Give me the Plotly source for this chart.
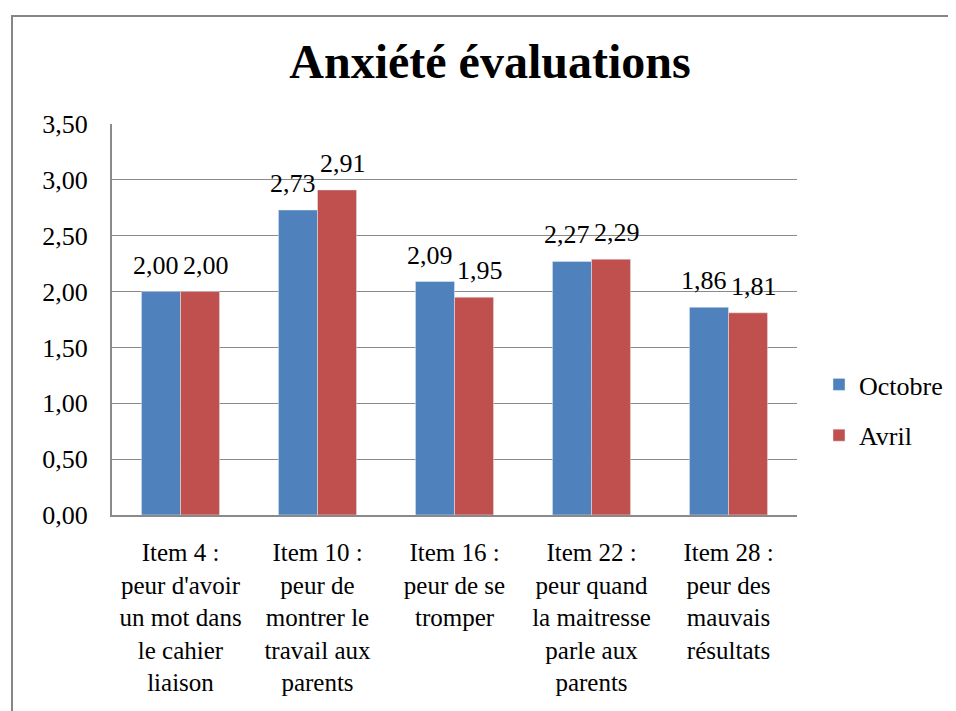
import plotly.graph_objects as go

categories = [
    "Item 4 :<br>peur d'avoir<br>un mot dans<br>le cahier<br>liaison",
    "Item 10 :<br>peur de<br>montrer le<br>travail aux<br>parents",
    "Item 16 :<br>peur de se<br>tromper",
    "Item 22 :<br>peur quand<br>la maitresse<br>parle aux<br>parents",
    "Item 28 :<br>peur des<br>mauvais<br>résultats",
]
octobre = [2.00, 2.73, 2.09, 2.27, 1.86]
avril = [2.00, 2.91, 1.95, 2.29, 1.81]
y_ticks = [0, 0.5, 1.0, 1.5, 2.0, 2.5, 3.0, 3.5]

FONT = "Liberation Serif"
BLUE = "#4F81BD"
RED = "#C0504D"
GRID = "#8a8a8a"

OFF = 8  # page body margin offset
W, H = 956, 711
ML, MR, MT, MB = 112 - OFF, 159 + OFF, 124 - OFF, 196 + OFF
PW, PH = W - ML - MR, H - MT - MB

def fmt(v):
    return f"{v:.2f}".replace(".", ",")

fig = go.Figure()
fig.add_trace(go.Bar(name="Octobre", x=categories, y=octobre, marker_color=BLUE,
                     legendgroup="a", hoverinfo="skip"))
fig.add_trace(go.Bar(name="Avril", x=categories, y=avril, marker_color=RED,
                     legendgroup="b", hoverinfo="skip"))

annotations = []
for series, shift in ((octobre, -25), (avril, 25)):
    for c, v in zip(categories, series):
        annotations.append(dict(x=c, y=v, xref="x", yref="y", text=fmt(v),
                                showarrow=False, xshift=shift, yshift=10,
                                yanchor="bottom", xanchor="center",
                                font=dict(family=FONT, size=26, color="black")))

# pixel (in screenshot coords) -> paper coords
px = lambda p: (p - OFF - ML) / PW
py = lambda p: (H - MB - (p - OFF)) / PH
shapes = [dict(type="rect", xref="paper", yref="paper",
               x0=px(12), x1=px(1100), y0=py(900), y1=py(16),
               line=dict(color="#868686", width=2), fillcolor="rgba(0,0,0,0)",
               layer="above")]

fig.update_layout(
    width=W, height=H,
    margin=dict(l=ML, r=MR, t=MT, b=MB, autoexpand=False),
    paper_bgcolor="white", plot_bgcolor="white",
    separators=", ",
    barmode="group", bargap=0.43, bargroupgap=0,
    font=dict(family=FONT, size=26, color="black"),
    title=dict(text="<b>Anxiété évaluations</b>", x=(490 - OFF) / W, xref="container",
               xanchor="center", y=1 - (61 - OFF) / H, yref="container", yanchor="middle",
               font=dict(family=FONT, size=48, color="black")),
    legend=dict(x=px(819), y=py(410), xref="paper", yref="paper",
                xanchor="left", yanchor="middle",
                font=dict(family=FONT, size=26, color="black"),
                traceorder="grouped", tracegroupgap=14, itemwidth=30,
                bgcolor="rgba(0,0,0,0)"),
    annotations=annotations,
    shapes=shapes,
)
fig.update_xaxes(showline=True, linecolor=GRID, linewidth=2, ticks="",
                 showgrid=False, tickfont=dict(family=FONT, size=25),
                 ticklabelstandoff=14, fixedrange=True)
fig.update_yaxes(range=[0, 3.5], tickvals=y_ticks, tickformat=".2f",
                 showline=True, linecolor=GRID, linewidth=2, ticks="",
                 showgrid=True, gridcolor=GRID, gridwidth=1.3, zeroline=False,
                 tickfont=dict(family=FONT, size=26), ticklabelstandoff=17,
                 fixedrange=True)

fig.write_html("out.html")
